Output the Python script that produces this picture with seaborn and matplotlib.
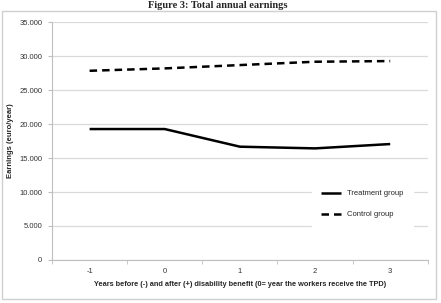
import matplotlib
matplotlib.use("Agg")
import matplotlib.pyplot as plt
import matplotlib.ticker as mticker
from matplotlib.patches import Rectangle
import pandas as pd
import seaborn as sns

# datos
years = [-1, 0, 1, 2, 3]
treatment = [19265, 19265, 16670, 16420, 17060]
control = [27840, 28190, 28680, 29170, 29270]
y_ticks = [0, 5000, 10000, 15000, 20000, 25000, 30000, 35000]

df = pd.DataFrame({
    "year": years * 2,
    "earnings": treatment + control,
    "group": ["Treatment group"] * 5 + ["Control group"] * 5,
})

sns.set_style("white")
plt.rcParams['font.family'] = ['Liberation Sans Narrow', 'Liberation Sans', 'DejaVu Sans']
plt.rcParams['axes.unicode_minus'] = False

fig = plt.figure(figsize=(4.41, 3.03), dpi=100)
ax = fig.add_axes([0.118, 0.142, 0.852, 0.785])

sns.lineplot(data=df, x="year", y="earnings", style="group",
             style_order=["Treatment group", "Control group"],
             dashes=[(1, 0), (3, 2)], color="black", linewidth=1.8, ax=ax)

ax.set_xlim(-1.5, 3.5)
ax.set_ylim(0, 35000)
ax.set_yticks(y_ticks)
ax.yaxis.set_major_formatter(mticker.FuncFormatter(lambda v, p: f"{v:,.0f}".replace(",", ".")))
ax.set_xticks(years)
ax.set_xticks([-1.5, -0.5, 0.5, 1.5, 2.5, 3.5], minor=True)
ax.tick_params(axis="x", which="major", length=0, labelsize=5.5, pad=6, colors="#333333")
ax.tick_params(axis="x", which="minor", length=3, color="#bfbfbf", direction="out", bottom=True)
ax.tick_params(axis="y", length=3, color="#bfbfbf", direction="out", left=True,
               labelsize=5.5, pad=4, labelcolor="#333333")
ax.grid(axis="y", color="#d9d9d9", linewidth=0.9)
ax.set_axisbelow(True)

for s in ["top", "right"]:
    ax.spines[s].set_visible(False)
ax.spines["left"].set_color("#bfbfbf")
ax.spines["bottom"].set_color("#bfbfbf")

ax.set_xlabel("Years before (-) and after (+) disability benefit (0= year the workers receive the TPD)",
              fontsize=5.3, fontweight="bold", labelpad=4)
ax.set_ylabel("Earnings (euro/year)", fontsize=5.5, fontweight="bold", labelpad=4)

leg = ax.legend(loc="lower right", bbox_to_anchor=(0.97, 0.12), frameon=True,
                fontsize=5.5, handlelength=2.65, labelspacing=1.8, borderpad=1.2)
leg.get_frame().set_edgecolor("white")
leg.get_frame().set_facecolor("white")
leg.get_frame().set_alpha(1)

# marco exterior del grafico
fig.patches.append(Rectangle((2 / 441, 4 / 303), 434 / 441, 288 / 303, transform=fig.transFigure,
                             fill=False, edgecolor="#d0d0d0", linewidth=1))

fig.text(218 / 441, 1 - 8 / 303, "Figure 3: Total annual earnings", ha="center", va="baseline",
         fontsize=7.5, fontweight="bold", family=["Liberation Serif", "DejaVu Serif"])

fig.savefig("out.png", dpi=100)
